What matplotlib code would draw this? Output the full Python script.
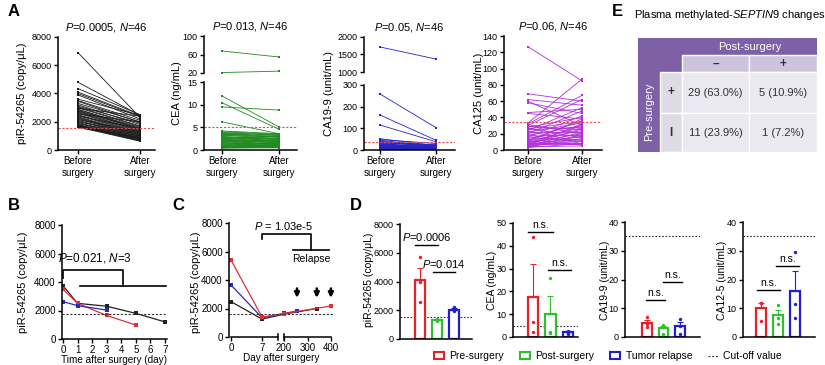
import numpy as np
import matplotlib
matplotlib.use("Agg")
import matplotlib.pyplot as plt
from matplotlib.patches import Rectangle
from matplotlib.lines import Line2D

plt.rcParams['font.family'] = ['Liberation Sans', 'DejaVu Sans']
plt.rcParams['mathtext.fontset'] = 'custom'
plt.rcParams['mathtext.rm'] = 'Liberation Sans'
plt.rcParams['mathtext.it'] = 'Liberation Sans:italic'
plt.rcParams['axes.linewidth'] = 1.1

# ---------------- data: panel A (paired, N=46) ----------------
pir_before = [6900, 4800, 4350, 4100, 4000, 3900, 3600, 3500, 3450, 3300, 3200, 3100, 3050, 3000, 2950, 2900,
              2850, 2800, 2750, 2700, 2650, 2600, 2550, 2500, 2450, 2400, 2350, 2300, 2250, 2200, 2150, 2100,
              2050, 2000, 1950, 1900, 1850, 1800, 1780, 1750, 1720, 1700, 1680, 1650, 1620, 1600]
pir_after = [2300, 2450, 2500, 2400, 2350, 2200, 2450, 2100, 1950, 2000, 1800, 1900, 1700, 1650, 2400, 1500,
             1600, 1450, 1550, 1400, 1350, 1300, 2000, 1250, 1200, 1500, 1150, 1100, 1050, 1000, 1300, 950,
             900, 1200, 850, 800, 1100, 750, 700, 1000, 680, 900, 650, 850, 620, 800]
cea_before = [67.6, 21, 11.9, 10.4, 9.5, 6.2, 4.2, 4.0, 3.9, 3.7, 3.6, 3.5, 3.4, 3.3, 3.2, 3.0, 2.9, 2.8, 2.7,
              2.6, 2.5, 2.4, 2.3, 2.2, 2.1, 2.0, 1.9, 1.8, 1.7, 1.6, 1.5, 1.4, 1.3, 1.2, 1.1, 1.0, 0.9, 0.8,
              0.8, 0.7, 0.7, 0.6, 0.6, 0.5, 0.5, 0.4]
cea_after = [54.6, 24, 5.1, 4.6, 8.8, 3.6, 3.6, 3.5, 3.2, 3.4, 3.0, 2.8, 3.3, 2.5, 2.9, 2.2, 2.6, 2.0, 2.4, 1.8,
             3.1, 1.6, 2.1, 1.5, 1.9, 1.3, 1.7, 1.2, 2.7, 1.1, 1.4, 1.0, 0.9, 2.3, 0.8, 1.5, 0.7, 1.2, 0.6,
             1.0, 0.9, 0.5, 0.8, 0.6, 0.7, 0.5]
ca199_before = [1714, 258, 161, 115, 52, 48, 45, 40, 38, 35, 32, 30, 28, 26, 24, 22, 20, 19, 18, 17, 16, 15,
                14, 13, 12, 11, 10, 10, 9, 9, 8, 8, 7, 7, 6, 6, 5, 5, 4, 4, 3, 3, 3, 2, 2, 1]
ca199_after = [1370, 103, 45, 38, 20, 30, 15, 22, 12, 18, 25, 10, 14, 16, 9, 11, 8, 20, 7, 13, 6, 12, 5, 10,
               8, 4, 9, 6, 5, 7, 4, 8, 3, 6, 5, 3, 4, 2, 3, 5, 2, 4, 1, 3, 2, 1]
ca125_before = [127, 69, 62, 60, 58, 46, 45, 33, 32, 31, 30, 29, 28, 27, 26, 25, 24, 23, 22, 21, 20, 19, 18,
                17, 16, 15, 14, 13, 12, 11, 10, 10, 9, 9, 8, 8, 7, 7, 6, 6, 5, 5, 4, 4, 3, 3]
ca125_after = [85, 60, 55, 30, 45, 50, 38, 87, 67, 20, 62, 25, 40, 15, 35, 28, 52, 10, 33, 22, 48, 8, 30, 18,
               42, 12, 27, 6, 36, 24, 16, 38, 9, 20, 30, 13, 26, 7, 17, 32, 11, 22, 5, 14, 8, 19]
a_titles = ["$\\mathit{P}$=0.0005, $\\mathit{N}$=46", "$\\mathit{P}$=0.013, $\\mathit{N}$=46",
            "$\\mathit{P}$=0.05, $\\mathit{N}$=46", "$\\mathit{P}$=0.06, $\\mathit{N}$=46"]

# ---------------- data: panel B ----------------
b_days = [[0, 1, 3, 5, 7], [0, 1, 3, 5], [0, 1, 3]]
b_vals = [[3740, 2500, 2300, 1800, 1200], [3490, 2500, 1650, 980], [2620, 2340, 2030]]
b_colors = ['#222222', '#e0303c', '#2a2ab8']
b_cutoff = 1730

# ---------------- data: panel C ----------------
c_days = [[0, 7, 200, 340], [0, 7, 200, 255], [0, 7, 200, 400]]
c_vals = [[2480, 1260, 1600, 2000], [3650, 1350, 1650, 1830], [5400, 1400, 1640, 2180]]
c_colors = ['#222222', '#2a2ab8', '#e0303c']
c_relapse = [255, 339, 399]
c_cutoff = 1620

# ---------------- data: panel D ----------------
d_groups = ['Pre-surgery', 'Post-surgery', 'Tumor relapse']
d_colors = ['#e8202a', '#2ec02e', '#1f1fd0']
d_labels = ['piR-54265 (copy/\u03bcL)', 'CEA (ng/mL)', 'CA19-9 (unit/mL)', 'CA12-5 (unit/mL)']
d_means = [[4100, 1320, 2050], [17.5, 10, 2.0], [5.0, 3.0, 3.8], [10, 7.5, 16]]
d_errs = [[850, 60, 90], [14.5, 7.8, 0.5], [1.0, 0.9, 1.5], [2.0, 2.0, 7.0]]
d_dots = [[[5700, 3950, 2600], [1250, 1400, 1300], [1950, 2200, 2000]],
          [[44, 6.5, 2.0], [26, 2.0, 1.8], [2.5, 1.8, 1.5]],
          [[7.0, 4.5, 3.5], [4.3, 3.5, 1.2], [6.3, 3.8, 1.0]],
          [[12, 11.8, 5.5], [11.3, 6.5, 4.5], [29.7, 11.5, 6.5]]]
d_cutoffs = [1530, 5, 35, 35]
d_ylims = [8000, 50, 40, 40]
d_yticks = [2000, 10, 10, 10]
d_sig = [[(-0.29, 1.06, 6550, "$\\mathit{P}$=0.0006"), (0.76, 2.06, 4670, "$\\mathit{P}$=0.014")],
         [(-0.29, 1.14, 46, "n.s."), (0.86, 2.17, 29.4, "n.s.")],
         [(-0.06, 1.09, 12.9, "n.s."), (0.97, 2.12, 19.1, "n.s.")],
         [(-0.24, 1.12, 16.3, "n.s."), (0.88, 2.24, 24.7, "n.s.")]]

# ---------------- data: panel E ----------------
e_cols = ['\u2013', '+']
e_rows = ['+', 'I']
e_cells = [['29 (63.0%)', '5 (10.9%)'], ['11 (23.9%)', '1 (7.2%)']]

W, H = 825, 365
fig = plt.figure(figsize=(W / 100, H / 100), dpi=100)


def ax_px(l, t, r, b):
    return fig.add_axes([l / W, 1 - b / H, (r - l) / W, (b - t) / H])


def style(ax, size=6.5):
    for s in ['top', 'right']:
        ax.spines[s].set_visible(False)
    ax.tick_params(labelsize=size, length=3, width=1.0, pad=1.5)


def ylab(text, x, y, size=8):
    fig.text(x / W, 1 - y / H, text, rotation=90, ha='center', va='center', fontsize=size)


def paired(ax, before, after, color):
    for b, a in zip(before, after):
        ax.plot([0, 1], [b, a], color=color, lw=0.6, marker='s', ms=2, mew=0)


red_dash = dict(color='#e05050', ls=(0, (2, 1.5)), lw=0.8)

# ---------------- A1 ----------------
ax = ax_px(58, 37, 155, 150)
style(ax)
paired(ax, pir_before, pir_after, '#1a1a1a')
ax.axhline(1550, **red_dash)
ax.set_xlim(-0.32, 1.24)
ax.set_ylim(0, 8000)
ax.set_yticks(range(0, 8001, 2000))
ax.set_xticks([0, 1])
ax.set_xticklabels(['Before\nsurgery', 'After\nsurgery'], fontsize=7)
ax.set_title(a_titles[0], fontsize=8, pad=5)
ylab('piR-54265 (copy/\u03bcL)', 22, 93)


# ---------------- broken axes A2, A3 ----------------
def broken(l, r, tt, tb, bt, bb, top_lim, bot_lim, top_ticks, bot_ticks, before, after, color, cutoff, xl):
    at = ax_px(l, tt, r, tb)
    ab = ax_px(l, bt, r, bb)
    for a in (at, ab):
        paired(a, before, after, color)
        a.set_xlim(*xl)
        style(a)
    ab.axhline(cutoff, **red_dash)
    at.set_ylim(*top_lim)
    ab.set_ylim(*bot_lim)
    at.set_yticks(top_ticks)
    ab.set_yticks(bot_ticks)
    at.spines['bottom'].set_visible(False)
    at.set_xticks([])
    ab.set_xticks([0, 1])
    ab.set_xticklabels(['Before\nsurgery', 'After\nsurgery'], fontsize=7)
    return at, ab


at, ab = broken(204, 297, 36, 73, 82, 150, (20, 100), (0, 15), [20, 60, 100], [0, 5, 10, 15],
                cea_before, cea_after, '#1f8a1f', 5, (-0.32, 1.32))
at.set_title(a_titles[1], fontsize=8, pad=5)
ylab('CEA (ng/mL)', 177, 93)

at, ab = broken(364, 455, 37, 72, 85, 150, (1000, 2000), (0, 300), [1000, 1500, 2000], [0, 100, 200, 300],
                ca199_before, ca199_after, '#2323c8', 37, (-0.29, 1.34))
at.set_title(a_titles[2], fontsize=8, pad=5)
ylab('CA19-9 (unit/mL)', 329, 93)

# ---------------- A4 ----------------
ax = ax_px(504, 36, 602, 150)
style(ax)
paired(ax, ca125_before, ca125_after, '#b030d8')
ax.axhline(35, **red_dash)
ax.set_xlim(-0.44, 1.37)
ax.set_ylim(0, 140)
ax.set_yticks(range(0, 141, 20))
ax.set_xticks([0, 1])
ax.set_xticklabels(['Before\nsurgery', 'After\nsurgery'], fontsize=7)
ax.set_title(a_titles[3], fontsize=8, pad=5)
ylab('CA125 (unit/mL)', 479, 93)

# ---------------- B ----------------
ax = ax_px(62, 225, 167, 339)
for d, v, c in zip(b_days, b_vals, b_colors):
    ax.plot(d, v, color=c, lw=0.9, marker='s', ms=2.5, mew=0)
ax.axhline(b_cutoff, color='#333333', ls=(0, (2, 1.5)), lw=0.8)
ax.set_xlim(-0.07, 7.14)
ax.set_ylim(0, 8000)
ax.set_yticks(range(0, 8001, 2000))
ax.set_xticks(range(8))
style(ax, 7)
ax.set_xlabel('Time after surgery (day)', fontsize=7.2, labelpad=0)
ax.plot([0, 0, 4.12, 4.12], [4280, 4840, 4840, 3720], color='k', lw=1.2)
ax.plot([1.17, 7.07], [3720, 3720], color='k', lw=1.2, clip_on=False)
ax.text(2.2, 5200, "$\\mathit{P}$=0.021, $\\mathit{N}$=3", ha='center', va='bottom', fontsize=8.5)
ylab('piR-54265 (copy/\u03bcL)', 23, 282)

# ---------------- C (broken x axis via function scale) ----------------
knots_in = [-100, 0, 7, 200, 400, 2000]
knots_out = [-100, 0, 7, 11.96, 22.57, 22.57 + 1600 * 10.61 / 200]


def fwd(v):
    return np.interp(v, knots_in, knots_out)


def inv(u):
    return np.interp(u, knots_out, knots_in)


ax = ax_px(229, 223, 333, 337)
ax.set_xscale('function', functions=(fwd, inv))
for d, v, c in zip(c_days, c_vals, c_colors):
    ax.plot(d, v, color=c, lw=0.9, marker='s', ms=2.5, mew=0)
ax.axhline(c_cutoff, color='#333333', ls=(0, (2, 1.5)), lw=0.8)
ax.set_xlim(-0.45, 408)
ax.set_ylim(0, 8000)
ax.set_yticks(range(0, 8001, 2000))
ax.set_xticks([0, 7, 200, 300, 400])
ax.set_xticklabels(['0', '7', '200', '300', '400'])
style(ax, 7)
ax.spines['bottom'].set_visible(False)
xt = ax.get_xaxis_transform()
ax.plot([0, 147], [0, 0], color='k', lw=1.1, transform=xt, clip_on=False)
ax.plot([200, 400], [0, 0], color='k', lw=1.1, transform=xt, clip_on=False)
ax.plot([147, 147], [-0.03, 0.03], color='k', lw=1.1, transform=xt, clip_on=False)
ax.plot([200, 200], [-0.03, 0.03], color='k', lw=1.1, transform=xt, clip_on=False)
ax.set_xlabel('Day after surgery', fontsize=7.2, labelpad=0)
ax.plot([7, 7, 315, 315], [6880, 7230, 7230, 6105], color='k', lw=1.2)
ax.plot([238, 390], [6105, 6105], color='k', lw=1.2)
ax.text(200, 7400, "$\\mathit{P}$ = 1.03e-5", ha='center', va='bottom', fontsize=8)
ax.text(315, 5480, 'Relapse', ha='center', va='center', fontsize=7.5)
for x in c_relapse:
    ax.annotate('', xy=(x, 2550), xytext=(x, 3600),
                arrowprops=dict(arrowstyle='-|>', color='k', lw=1.8, mutation_scale=7))
ylab('piR-54265 (copy/\u03bcL)', 196, 282)

# ---------------- D ----------------
d_boxes = [(400, 224, 472, 339), (513, 223, 578, 337), (625, 222, 700, 337), (743, 222, 815, 337)]
d_xlims = [(-1.18, 3.06), (-1.14, 2.57), (-1.33, 3.21), (-1.06, 3.18)]
d_ylab_x = [369, 492, 605, 722]
for i in range(4):
    ax = ax_px(*d_boxes[i])
    x = np.arange(3)
    for j in range(3):
        ax.bar(x[j], d_means[i][j], width=0.6, facecolor='white', edgecolor=d_colors[j], lw=1.6, zorder=2)
        ax.errorbar(x[j], d_means[i][j], yerr=[[0], [d_errs[i][j]]], fmt='none', ecolor=d_colors[j],
                    elinewidth=0.8, capsize=2, capthick=0.8, zorder=3)
        ax.scatter([x[j]] * 3, d_dots[i][j], s=6, color=d_colors[j], zorder=4, lw=0)
    ax.axhline(d_cutoffs[i], color='#333333', ls=(0, (1.5, 1.5)), lw=0.8, zorder=1)
    for x1, x2, y, t in d_sig[i]:
        ax.plot([x1, x2], [y, y], color='k', lw=1.0)
        ax.text((x1 + x2) / 2, y + d_ylims[i] * 0.02, t, ha='center', va='bottom',
                fontsize=8 if i == 0 else 7.5)
    ax.set_xlim(*d_xlims[i])
    ax.set_ylim(0, d_ylims[i])
    ax.set_yticks(np.arange(0, d_ylims[i] + 1, d_yticks[i]))
    ax.set_xticks([])
    style(ax)
    ylab(d_labels[i], d_ylab_x[i], 280, 7.5)

handles = [Rectangle((0, 0), 1, 1, facecolor='white', edgecolor=c, lw=1.5) for c in d_colors]
handles.append(Line2D([], [], color='#333333', ls=(0, (1.5, 1.5)), lw=0.9))
fig.legend(handles, d_groups + ['Cut-off value'], loc='center', ncol=4, frameon=False, fontsize=7.5,
           bbox_to_anchor=(608 / W, 1 - 356 / H), handlelength=1.0, handleheight=0.6,
           columnspacing=1.5, handletextpad=0.5)

# ---------------- E table ----------------
ax = ax_px(638, 38, 817, 152)
ax.set_xlim(638, 817)
ax.set_ylim(152, 38)
ax.axis('off')
col_edges = [638, 660, 682, 749, 817]
row_edges = [38, 55, 72, 113, 152]
purple = '#7d60a6'
ax.add_patch(Rectangle((638, 38), 179, 17, facecolor=purple, lw=0))
ax.add_patch(Rectangle((638, 55), 44, 17, facecolor=purple, lw=0))
ax.add_patch(Rectangle((638, 72), 22, 80, facecolor=purple, lw=0))
for k in range(2):
    x0, x1 = col_edges[2 + k], col_edges[3 + k]
    ax.add_patch(Rectangle((x0, 55), x1 - x0, 17, facecolor='#cbc4dc', edgecolor='white', lw=1))
    ax.text((x0 + x1) / 2, 63.5, e_cols[k], ha='center', va='center', fontsize=8.5, color='#333333',
            fontweight='bold')
for r in range(2):
    y0, y1 = row_edges[2 + r], row_edges[3 + r]
    ax.add_patch(Rectangle((660, y0), 22, y1 - y0, facecolor='#dedbe7', edgecolor='white', lw=1))
    ax.text(671, (y0 + y1) / 2, e_rows[r], ha='center', va='center', fontsize=8.5, color='#333333',
            fontweight='bold')
    for k in range(2):
        x0, x1 = col_edges[2 + k], col_edges[3 + k]
        ax.add_patch(Rectangle((x0, y0), x1 - x0, y1 - y0, facecolor='#eae8f0', edgecolor='white', lw=1))
        ax.text((x0 + x1) / 2, (y0 + y1) / 2, e_cells[r][k], ha='center', va='center', fontsize=8,
                color='#333333')
ax.text(749.5, 46.5, 'Post-surgery', ha='center', va='center', fontsize=8, color='white')
ax.text(649, 112, 'Pre-surgery', ha='center', va='center', fontsize=8, color='white', rotation=90)
fig.text(730 / W, 1 - 15 / H, 'Plasma methylated-$\\mathit{SEPTIN9}$ changes', ha='center', va='center',
         fontsize=8)

# ---------------- panel letters ----------------
for t, x, y in [('A', 8, 12), ('B', 8, 205), ('C', 172, 205), ('D', 350, 205), ('E', 612, 12)]:
    fig.text(x / W, 1 - y / H, t, fontsize=12, fontweight='bold', ha='left', va='center')

fig.savefig('out.png', dpi=100)
